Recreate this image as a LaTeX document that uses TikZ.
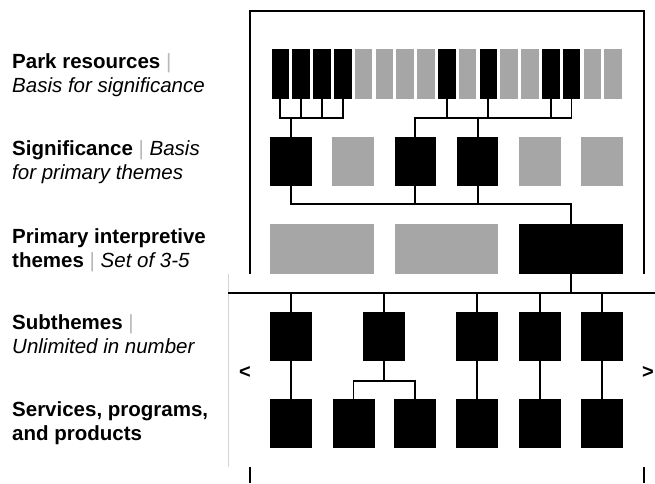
\documentclass[tikz,border=0pt]{standalone}
\usepackage{fontspec}
\setmainfont{Liberation Sans}
\definecolor{boxgrey}{HTML}{A6A6A6}
\definecolor{sepgrey}{HTML}{B8B8B8}
\definecolor{railgrey}{HTML}{D4D4D4}
\begin{document}
\begin{tikzpicture}[x=1pt,y=-1pt,
  blk/.style={fill=black,draw=none,inner sep=0pt,outer sep=0pt},
  gry/.style={fill=boxgrey,draw=none,inner sep=0pt,outer sep=0pt},
  bar/.style={minimum width=17.6pt,minimum height=50pt},
  sq/.style={minimum width=41.6pt,minimum height=49pt},
  wide/.style={minimum width=103.6pt,minimum height=49.7pt},
  link/.style={draw=black,line width=1.9pt},
  frame/.style={draw=black,line width=1.9pt},
  rail/.style={draw=railgrey,line width=1.6pt},
  lbl/.style={anchor=base west,align=left,inner sep=0pt,font=\fontsize{20.5}{24.6}\selectfont},
  arr/.style={font=\bfseries\fontsize{20}{20}\selectfont,inner sep=0pt}
]
\useasboundingbox (0,0) rectangle (655,483);
\newcommand{\sepbar}{{\color{sepgrey}\mdseries\ |\ }}
% labels (anchored at the baseline of their last line)
\node[lbl] (l1) at (12,92.6) {\textbf{Park resources}\sepbar\\\textit{Basis for significance}};
\node[lbl] (l2) at (12,179.6) {\textbf{Significance}\sepbar\textit{Basis}\\\textit{for primary themes}};
\node[lbl] (l3) at (12,267.6) {\textbf{Primary interpretive}\\\textbf{themes}\sepbar\textit{Set of 3-5}};
\node[lbl] (l4) at (12,353.6) {\textbf{Subthemes}\sepbar\\\textit{Unlimited in number}};
\node[lbl] (l5) at (12,440.6) {\textbf{Services, programs,}\\\textbf{and products}};
% frame
\coordinate (ftl) at (250,11);
\coordinate (ftr) at (644,11);
\coordinate (fbl) at (250,273.5);
\coordinate (fbr) at (644,273.5);
\draw[frame] (fbl) -- (ftl) -- (ftr) -- (fbr);
\coordinate (gt) at (228.5,273.5);
\coordinate (gb) at (228.5,467);
\draw[rail] (gt) -- (gb);
\coordinate (tl1) at (250,467);
\coordinate (tl2) at (250,483);
\coordinate (tr1) at (644,467);
\coordinate (tr2) at (644,483);
\draw[frame] (tl1) -- (tl2);
\draw[frame] (tr1) -- (tr2);
\node[arr] (lt) at (245,372) {<};
\node[arr] (gtr) at (648,372) {>};
% resources row
\foreach \i/\s in {1/blk,2/blk,3/blk,4/blk,5/gry,6/gry,7/gry,8/gry,9/blk,10/gry,11/blk,12/gry,13/gry,14/blk,15/blk,16/gry,17/gry}{
  \node[\s,bar] (r\i) at ({280.3+(\i-1)*20.8},74) {};
}
% significance row
\foreach \i/\s in {1/blk,2/gry,3/blk,4/blk,5/gry,6/gry}{
  \node[\s,sq] (s\i) at ({291+(\i-1)*62.2},161.2) {};
}
% primary themes
\node[gry,wide] (p1) at (322,248.8) {};
\node[gry,wide] (p2) at (446.5,248.8) {};
\node[blk,wide] (p3) at (570.8,248.8) {};
% subthemes
\foreach \i/\x in {1/291,2/384.3,3/477.3,4/539.8,5/602}{
  \node[blk,minimum width=42pt,minimum height=48.4pt] (t\i) at (\x,336.5) {};
}
% services
\foreach \i/\x in {1/291,2/353.5,3/415.4,4/477.3,5/539.8,6/602}{
  \node[blk,minimum width=42pt,minimum height=48.7pt] (v\i) at (\x,423.3) {};
}
% connectors resources -> significance
\coordinate (ja) at (0,117.7);
\draw[link] (r1.south) -- (r1.south |- ja) -- (r4.south |- ja) -- (r4.south);
\draw[link] (r2.south) -- (r2.south |- ja);
\draw[link] (r3.south) -- (r3.south |- ja);
\draw[link] (s1.north) -- (s1.north |- ja);
\draw[link] (s3.north) -- (s3.north |- ja) -- (r15.south |- ja) -- (r15.south);
\draw[link] (r9.south) -- (r9.south |- ja);
\draw[link] (r11.south) -- (r11.south |- ja);
\draw[link] (r14.south) -- (r14.south |- ja);
\draw[link] (s4.north) -- (s4.north |- ja);
% significance -> primary
\coordinate (jb) at (0,204.3);
\draw[link] (s1.south) -- (s1.south |- jb) -- (p3.north |- jb) -- (p3.north);
\draw[link] (s3.south) -- (s3.south |- jb);
\draw[link] (s4.south) -- (s4.south |- jb);
% primary -> subthemes
\coordinate (mL) at (228,292.8);
\coordinate (mR) at (655,292.8);
\draw[link] (mL) -- (mR);
\draw[link] (p3.south) -- (p3.south |- mL);
\foreach \i in {1,...,5}{
  \draw[link] (t\i.north) -- (t\i.north |- mL);
}
% subthemes -> services
\coordinate (jc) at (0,380.7);
\draw[link] (t1.south) -- (v1.north);
\draw[link] (t2.south) -- (t2.south |- jc);
\draw[link] (v2.north) -- (v2.north |- jc) -- (v3.north |- jc) -- (v3.north);
\draw[link] (t3.south) -- (v4.north);
\draw[link] (t4.south) -- (v5.north);
\draw[link] (t5.south) -- (v6.north);
\end{tikzpicture}
\end{document}
